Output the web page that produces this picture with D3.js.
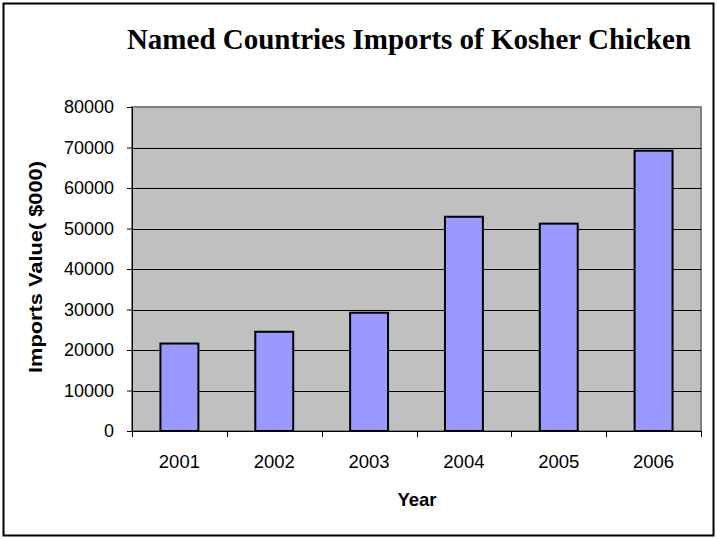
<!DOCTYPE html>
<html>
<head>
<meta charset="utf-8">
<script src="https://cdn.jsdelivr.net/npm/d3@7/dist/d3.min.js"></script>
<style>
  html, body { margin: 0; padding: 0; background: #fff; }
  svg { display: block; }
</style>
</head>
<body>
<svg id="chart" width="717" height="539"></svg>
<script>
// Kosher chicken imports by year, value in $000
const years = ["2001", "2002", "2003", "2004", "2005", "2006"];
const importValues = [21600, 24500, 29200, 52900, 51200, 69200];
const yTicks = [0, 10000, 20000, 30000, 40000, 50000, 60000, 70000, 80000];

const titleText = "Named Countries Imports of Kosher Chicken";
const yTitle = "Imports Value( $000)";
const xTitle = "Year";

const svg = d3.select("#chart");
const W = 717, H = 539;
const plot = { left: 132, right: 701, top: 107, bottom: 431 };
const sans = "Arial, 'Liberation Sans', sans-serif";

// outer chart frame
svg.append("rect")
  .attr("x", 3.5).attr("y", 3.5)
  .attr("width", W - 7).attr("height", H - 7)
  .attr("fill", "#fff").attr("stroke", "#000").attr("stroke-width", 2);

const x = d3.scaleBand().domain(years).range([plot.left, plot.right]).paddingInner(0.6).paddingOuter(0.3);
const xCat = d3.scaleBand().domain(years).range([plot.left, plot.right]);
const y = d3.scaleLinear().domain([0, 80000]).range([plot.bottom, plot.top]);

// plot area
svg.append("rect")
  .attr("x", plot.left).attr("y", plot.top)
  .attr("width", plot.right - plot.left).attr("height", plot.bottom - plot.top)
  .attr("fill", "#C0C0C0").attr("stroke", "#808080").attr("stroke-width", 2);

// horizontal gridlines
svg.append("g").selectAll("line")
  .data(yTicks.filter(d => d > 0 && d < 80000))
  .join("line")
  .attr("x1", plot.left).attr("x2", plot.right)
  .attr("y1", d => Math.round(y(d)) + 0.5).attr("y2", d => Math.round(y(d)) + 0.5)
  .attr("stroke", "#000").attr("stroke-width", 1);

// bars
svg.append("g").selectAll("rect")
  .data(years.map((yr, i) => ({ yr, v: importValues[i] })))
  .join("rect")
  .attr("x", d => x(d.yr))
  .attr("y", d => y(d.v))
  .attr("width", x.bandwidth())
  .attr("height", d => y(0) - y(d.v))
  .attr("fill", "#9999FF")
  .attr("stroke", "#000").attr("stroke-width", 2);

// y axis
const yAxis = d3.axisLeft(y).tickValues(yTicks).tickSize(5).tickPadding(13).tickFormat(d3.format("d"));
const gy = svg.append("g").attr("transform", `translate(${plot.left},0)`).call(yAxis);
gy.select(".domain").attr("stroke", "#000").attr("stroke-width", 1);
gy.selectAll(".tick line").attr("stroke", "#000");
gy.selectAll(".tick text")
  .attr("font-family", sans)
  .attr("font-size", 18).attr("fill", "#000");

// x axis: ticks sit on category boundaries
const gx = svg.append("g").attr("transform", `translate(0,${plot.bottom})`);
gx.append("line")
  .attr("x1", plot.left - 5).attr("x2", plot.right)
  .attr("y1", 0.5).attr("y2", 0.5)
  .attr("stroke", "#000");
const bounds = years.map(d => xCat(d)).concat([plot.right]);
gx.selectAll("line.tk").data(bounds).join("line").attr("class", "tk")
  .attr("x1", d => Math.round(d) + 0.5).attr("x2", d => Math.round(d) + 0.5)
  .attr("y1", 0).attr("y2", 6).attr("stroke", "#000");
gx.selectAll("text").data(years).join("text")
  .attr("x", d => xCat(d) + xCat.bandwidth() / 2)
  .attr("y", 37)
  .attr("text-anchor", "middle")
  .attr("font-family", sans)
  .attr("font-size", 18.5).attr("fill", "#000")
  .text(d => d);

// titles
svg.append("text")
  .attr("x", 409).attr("y", 49)
  .attr("text-anchor", "middle")
  .attr("font-family", "'Times New Roman', 'Liberation Serif', serif")
  .attr("font-weight", "bold").attr("font-size", 29)
  .text(titleText);

svg.append("text")
  .attr("transform", `translate(42,${(plot.top + plot.bottom) / 2 - 2}) rotate(-90)`)
  .attr("text-anchor", "middle")
  .attr("font-family", sans)
  .attr("font-weight", "bold").attr("font-size", 18)
  .attr("textLength", 212).attr("lengthAdjust", "spacingAndGlyphs")
  .text(yTitle);

svg.append("text")
  .attr("x", 417).attr("y", 506)
  .attr("text-anchor", "middle")
  .attr("font-family", sans)
  .attr("font-weight", "bold").attr("font-size", 18.5)
  .text(xTitle);
</script>
</body>
</html>
